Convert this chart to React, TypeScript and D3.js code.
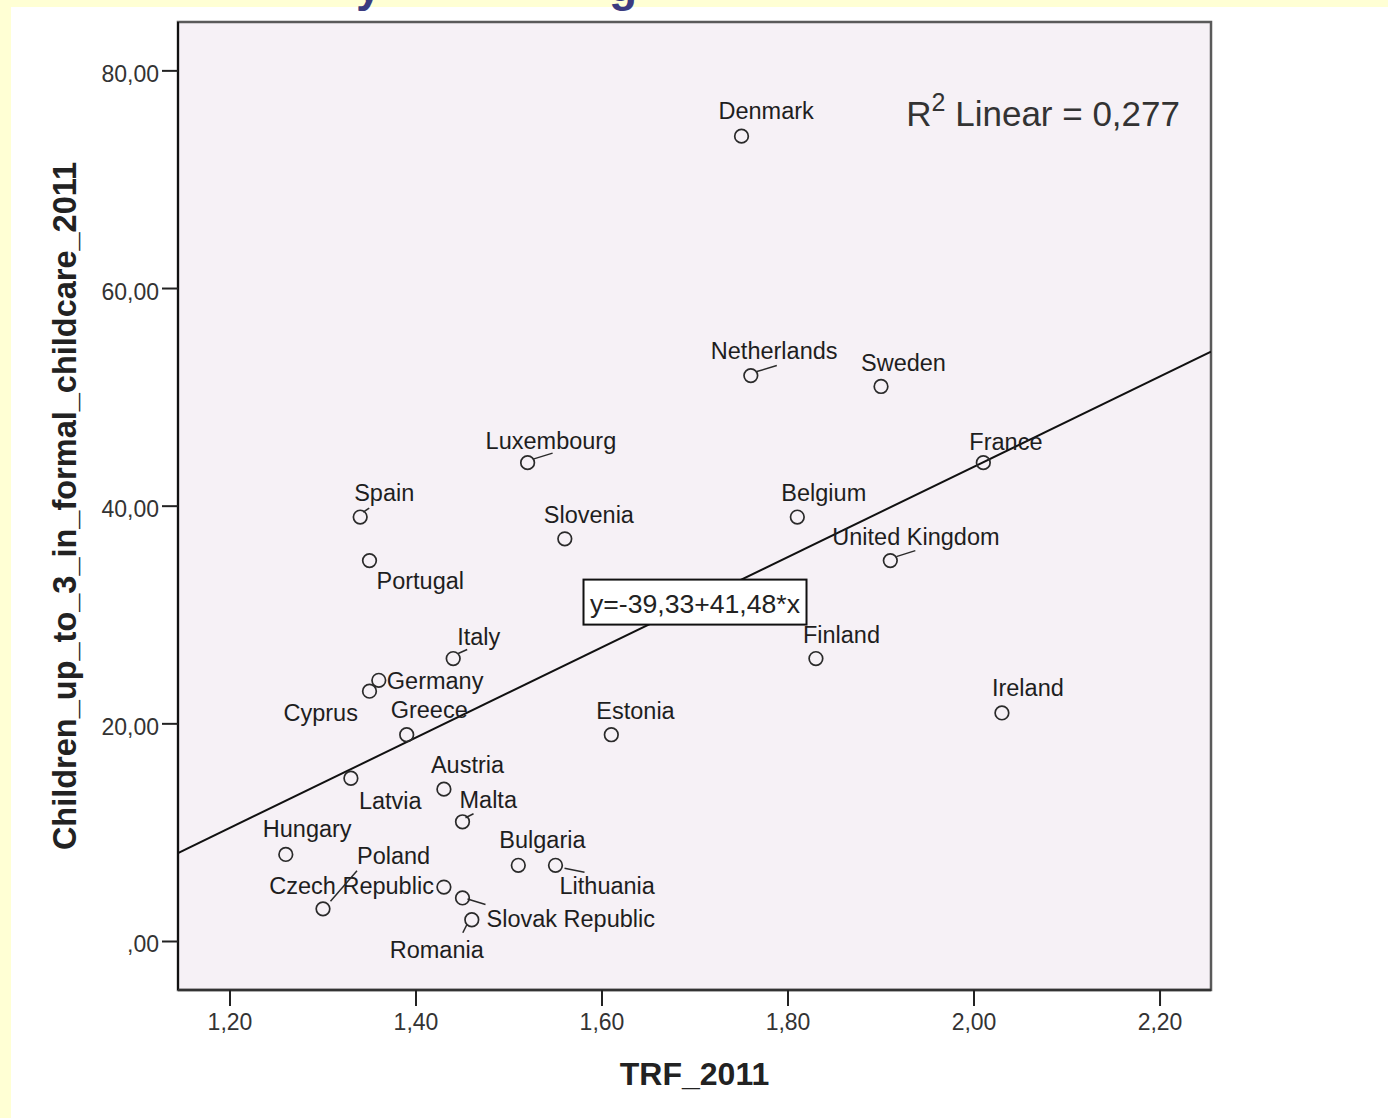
import React from "react";
import * as d3 from "d3";

// ---- data ----
const countries = [
  "Denmark", "Netherlands", "Sweden", "Luxembourg", "France", "Spain", "Belgium",
  "Slovenia", "Portugal", "United Kingdom", "Italy", "Finland", "Germany", "Cyprus",
  "Ireland", "Greece", "Estonia", "Latvia", "Austria", "Malta", "Hungary", "Bulgaria",
  "Lithuania", "Czech Republic", "Slovak Republic", "Poland", "Romania",
];
const trf2011 = [
  1.75, 1.76, 1.90, 1.52, 2.01, 1.34, 1.81,
  1.56, 1.35, 1.91, 1.44, 1.83, 1.36, 1.35,
  2.03, 1.39, 1.61, 1.33, 1.43, 1.45, 1.26, 1.51,
  1.55, 1.43, 1.45, 1.30, 1.46,
];
const childcare2011 = [
  74, 52, 51, 44, 44, 39, 39,
  37, 35, 35, 26, 26, 24, 23,
  21, 19, 19, 15, 14, 11, 8, 7,
  7, 5, 4, 3, 2,
];
const xTickValues = [1.2, 1.4, 1.6, 1.8, 2.0, 2.2];
const xTickLabels = ["1,20", "1,40", "1,60", "1,80", "2,00", "2,20"];
const yTickValues = [0, 20, 40, 60, 80];
const yTickLabels = [",00", "20,00", "40,00", "60,00", "80,00"];
const fitIntercept = -39.33;
const fitSlope = 41.48;
const fitEquationLabel = "y=-39,33+41,48*x";
const rSquaredLabel = "0,277";
const xTitle = "TRF_2011";
const yTitle = "Children_up_to_3_in_formal_childcare_2011";

// ---- label layout (offsets relative to the point, in px) ----
type Lay = { dx: number; dy: number; anchor?: string; leader?: number[] };
const labelLayout: Lay[] = [
  { dx: -23, dy: -17 },
  { dx: -40, dy: -17, leader: [6, -4, 26, -10] },
  { dx: -20, dy: -15 },
  { dx: -42, dy: -14, leader: [5.5, -3.5, 25, -9.5] },
  { dx: -14, dy: -13 },
  { dx: -6, dy: -16, leader: [3, -5, 9, -9] },
  { dx: -16, dy: -16 },
  { dx: -21, dy: -16 },
  { dx: 7, dy: 28 },
  { dx: -58, dy: -16, leader: [6, -4, 25, -10] },
  { dx: 4, dy: -14, leader: [5, -5, 14, -9] },
  { dx: -13, dy: -16 },
  { dx: 8, dy: 9 },
  { dx: -86, dy: 30 },
  { dx: -10, dy: -17 },
  { dx: -16, dy: -17 },
  { dx: -15, dy: -16 },
  { dx: 8, dy: 31 },
  { dx: -13, dy: -16 },
  { dx: -3, dy: -14, leader: [3, -4, 11, -8] },
  { dx: -23, dy: -17 },
  { dx: -19, dy: -17 },
  { dx: 4, dy: 29, leader: [9, 3, 29, 7] },
  { dx: -10, dy: 7, anchor: "end" },
  { dx: 24, dy: 29, leader: [5, 1, 23, 6.5] },
  { dx: 34, dy: -45, leader: [7.5, -7.5, 34, -38] },
  { dx: 12, dy: 38, anchor: "end", leader: [-5, 5, -9, 13] },
];

const W = 1388;
const H = 1118;
const plot = { left: 178, right: 1211, top: 22, bottom: 990 };
const FONT = "'Liberation Sans', Arial, sans-serif";

export default function App() {
  const x = d3.scaleLinear().domain([1.1441, 2.2548]).range([plot.left, plot.right]);
  const y = d3.scaleLinear().domain([-4.457, 84.49]).range([plot.bottom, plot.top]);

  const [dx0, dx1] = x.domain();
  const fitLine = d3.line<number>()
    .x((v) => x(v))
    .y((v) => y(fitIntercept + fitSlope * v))([dx0, dx1]);

  const boxX = 1.70;
  const boxCx = x(boxX);
  const boxCy = y(fitIntercept + fitSlope * boxX);
  const boxW = 223;
  const boxH = 45;

  return (
    <div style={{ position: "absolute", left: 0, top: 0 }}>
      <svg width={W} height={H} style={{ display: "block" }} fontFamily={FONT}>
        <defs>
          <clipPath id="plotClip">
            <rect x={plot.left} y={plot.top} width={plot.right - plot.left} height={plot.bottom - plot.top} />
          </clipPath>
          <clipPath id="titleClip">
            <rect x={0} y={0} width={W} height={11} />
          </clipPath>
        </defs>
        <rect x={0} y={0} width={W} height={H} fill="#FFFFD4" />
        <rect x={11} y={7} width={W - 11} height={H - 7} fill="#FFFFFF" />

        {/* cut-off title remnants */}
        <g clipPath="url(#titleClip)" fill="#3B3B80" fontWeight="bold" fontSize={46}>
          <text x={356} y={1}>y</text>
          <text x={609} y={1}>g</text>
        </g>

        {/* plot background */}
        <rect
          x={plot.left}
          y={plot.top}
          width={plot.right - plot.left}
          height={plot.bottom - plot.top}
          fill="#F6F1F6"
          stroke="#5a5a5a"
          strokeWidth={2.5}
        />
        <line x1={plot.left} x2={plot.left} y1={plot.top} y2={plot.bottom} stroke="#111" strokeWidth={2} />
        <line x1={plot.left} x2={plot.right} y1={plot.bottom} y2={plot.bottom} stroke="#333" strokeWidth={2.5} />

        {/* y axis ticks */}
        {yTickValues.map((v, i) => (
          <g key={"yt" + i}>
            <line x1={plot.left - 16} x2={plot.left} y1={y(v)} y2={y(v)} stroke="#222" strokeWidth={2} />
            <text x={plot.left - 19} y={y(v) + 11} textAnchor="end" fontSize={23} fill="#333">
              {yTickLabels[i]}
            </text>
          </g>
        ))}
        {/* x axis ticks */}
        {xTickValues.map((v, i) => (
          <g key={"xt" + i}>
            <line x1={x(v)} x2={x(v)} y1={plot.bottom} y2={plot.bottom + 16} stroke="#222" strokeWidth={2} />
            <text x={x(v)} y={plot.bottom + 40} textAnchor="middle" fontSize={23} fill="#333">
              {xTickLabels[i]}
            </text>
          </g>
        ))}

        {/* axis titles */}
        <text x={(plot.left + plot.right) / 2} y={1085} textAnchor="middle" fontSize={32} fontWeight="bold" fill="#222">
          {xTitle}
        </text>
        <text
          transform={`translate(76, ${(plot.top + plot.bottom) / 2}) rotate(-90)`}
          textAnchor="middle"
          fontSize={32.5}
          fontWeight="bold"
          fill="#222"
        >
          {yTitle}
        </text>

        {/* regression line */}
        <path d={fitLine ?? ""} stroke="#111" strokeWidth={2} fill="none" clipPath="url(#plotClip)" />

        {/* points */}
        {countries.map((c, i) => {
          const px = x(trf2011[i]);
          const py = y(childcare2011[i]);
          const lay = labelLayout[i];
          return (
            <g key={c}>
              <circle cx={px} cy={py} r={6.8} fill="none" stroke="#2a2a2a" strokeWidth={1.7} />
              {lay.leader && (
                <line
                  x1={px + lay.leader[0]}
                  y1={py + lay.leader[1]}
                  x2={px + lay.leader[2]}
                  y2={py + lay.leader[3]}
                  stroke="#2a2a2a"
                  strokeWidth={1.5}
                />
              )}
              <text x={px + lay.dx} y={py + lay.dy} fontSize={23.5} fill="#1e1e1e" textAnchor={lay.anchor ?? "start"}>
                {c}
              </text>
            </g>
          );
        })}

        {/* equation box */}
        <rect
          x={boxCx - boxW / 2}
          y={boxCy - boxH / 2}
          width={boxW}
          height={boxH}
          fill="#FFFFFF"
          stroke="#111"
          strokeWidth={2}
        />
        <text
          x={boxCx}
          y={boxCy + 11}
          textAnchor="middle"
          fontSize={25}
          fill="#222"
          textLength={210}
          lengthAdjust="spacingAndGlyphs"
        >
          {fitEquationLabel}
        </text>

        {/* R squared */}
        <text x={plot.right - 31} y={126} textAnchor="end" fontSize={35} fill="#333">
          <tspan>R</tspan>
          <tspan fontSize={25} dy={-15}>2</tspan>
          <tspan dy={15}>{" Linear = " + rSquaredLabel}</tspan>
        </text>
      </svg>
    </div>
  );
}
